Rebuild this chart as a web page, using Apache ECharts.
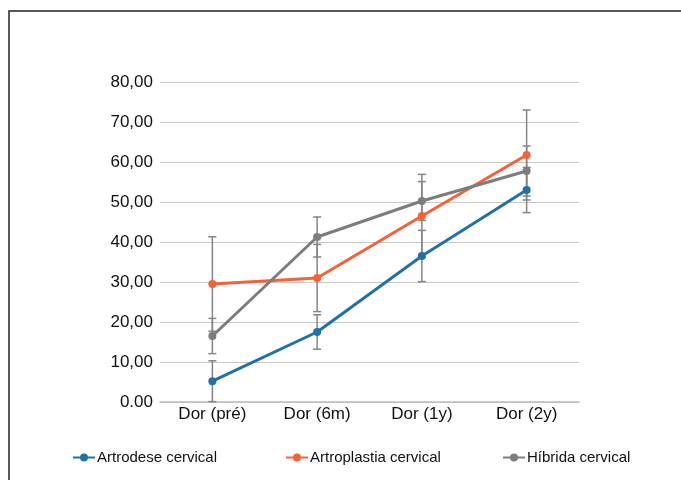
<!DOCTYPE html>
<html>
<head>
<meta charset="utf-8">
<script src="https://cdn.jsdelivr.net/npm/echarts@6/dist/echarts.min.js"></script>
<style>html,body{margin:0;padding:0;background:#fff}#c{width:681px;height:480px}</style>
</head>
<body>
<div id="c"></div>
<script>
var categories = ['Dor (pré)', 'Dor (6m)', 'Dor (1y)', 'Dor (2y)'];
var seriesNames = ['Artrodese cervical', 'Artroplastia cervical', 'Híbrida cervical'];
var artrodese = [5.2, 17.5, 36.5, 53.0];
var artrodeseErr = [5.1, 4.3, 6.4, 5.65];
var artroplastia = [29.5, 31.0, 46.5, 61.75];
var artroplastiaErr = [11.8, 8.4, 10.4, 11.25];
var hibrida = [16.5, 41.25, 50.25, 57.75];
var hibridaErr = [4.4, 5.0, 4.85, 6.25];
var yTickLabels = ['0.00', '10,00', '20,00', '30,00', '40,00', '50,00', '60,00', '70,00', '80,00'];

var colors = ['#2271a6', '#f5623a', '#7d7d7d'];
var values = [artrodese, artroplastia, hibrida];
var errs = [artrodeseErr, artroplastiaErr, hibridaErr];
var font = 'Liberation Sans, Arial, Helvetica, sans-serif';

function errData(vals, e) {
  return vals.map(function (v, i) { return [i, Math.max(0, v - e[i]), v + e[i]]; });
}
function renderErr(params, api) {
  var x = api.value(0);
  var lo = api.coord([x, api.value(1)]);
  var hi = api.coord([x, api.value(2)]);
  var hw = 4;
  var st = { stroke: '#858585', lineWidth: 1.5 };
  return {
    type: 'group',
    children: [
      { type: 'line', shape: { x1: lo[0], y1: lo[1], x2: hi[0], y2: hi[1] }, style: st },
      { type: 'line', shape: { x1: hi[0] - hw, y1: hi[1], x2: hi[0] + hw, y2: hi[1] }, style: st },
      { type: 'line', shape: { x1: lo[0] - hw, y1: lo[1], x2: lo[0] + hw, y2: lo[1] }, style: st }
    ]
  };
}

var series = [];
for (var k = 0; k < 3; k++) {
  series.push({
    type: 'custom', name: 'err' + k, renderItem: renderErr, data: errData(values[k], errs[k]),
    encode: { x: 0, y: [1, 2] }, z: 1, silent: true
  });
}
for (var k2 = 0; k2 < 3; k2++) {
  series.push({
    type: 'line', name: seriesNames[k2], data: values[k2], z: 3,
    symbol: 'circle', symbolSize: 8,
    lineStyle: { color: colors[k2], width: 3 },
    itemStyle: { color: colors[k2] }
  });
}

var legendLefts = [67, 280, 497];
var legends = seriesNames.map(function (n, i) {
  return {
    data: [n], left: legendLefts[i], top: 445, itemWidth: 22, itemHeight: 10, itemGap: 0,
    textStyle: { fontFamily: font, fontSize: 15, color: '#111', padding: [0, 0, 0, -3] }
  };
});

var chart = echarts.init(document.getElementById('c'), null, { renderer: 'canvas' });
chart.setOption({
  animation: false,
  backgroundColor: '#fff',
  color: colors,
  grid: { left: 160, right: 102, top: 82, bottom: 78 },
  legend: legends,
  graphic: [{
    type: 'polyline', shape: { points: [[9, 490], [9, 11], [700, 11]] },
    style: { fill: 'none', stroke: '#222', lineWidth: 1.5 }, silent: true
  }],
  xAxis: {
    type: 'category', data: categories, boundaryGap: true,
    axisLine: { lineStyle: { color: '#bdbdbd', width: 1.5 } },
    axisTick: { show: false },
    axisLabel: { fontFamily: font, fontSize: 17, color: '#111', margin: 4 }
  },
  yAxis: {
    type: 'value', min: 0, max: 80, interval: 10,
    axisLine: { show: false }, axisTick: { show: false },
    splitLine: { lineStyle: { color: '#cdc6c6', width: 1.2 } },
    axisLabel: {
      fontFamily: font, fontSize: 17, color: '#111', margin: 7,
      formatter: function (v) { return yTickLabels[Math.round(v / 10)]; }
    }
  },
  series: series
});
</script>
</body>
</html>
